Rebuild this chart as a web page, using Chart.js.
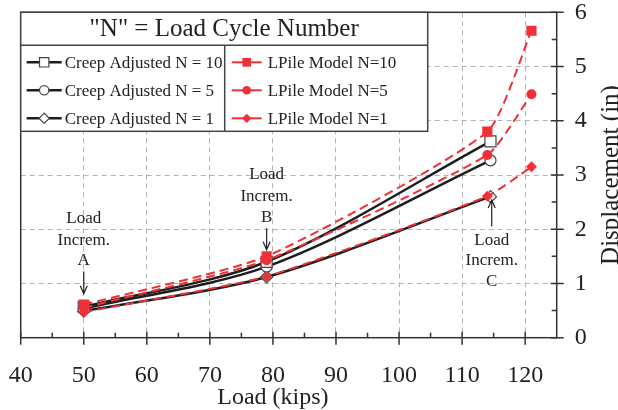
<!DOCTYPE html>
<html>
<head>
<meta charset="utf-8">
<script src="https://cdn.jsdelivr.net/npm/chart.js@4.4.1/dist/chart.umd.min.js"></script>
<style>
    html, body { margin: 0; padding: 0; background: #fff; }
    canvas { display: block; }
</style>
</head>
<body>
<canvas id="myChart" width="618" height="410"></canvas>
<script>
// data
var loadCreep = [50, 79, 114.5];
var creepN10 = [0.57, 1.40, 3.62];
var creepN5 = [0.54, 1.31, 3.27];
var creepN1 = [0.49, 1.12, 2.60];

var loadLpile = [50, 79, 114, 121];
var lpileN10 = [0.61, 1.50, 3.80, 5.66];
var lpileN5 = [0.55, 1.43, 3.37, 4.49];
var lpileN1 = [0.47, 1.13, 2.61, 3.15];

var xTicks = [40, 50, 60, 70, 80, 90, 100, 110, 120];
var xMinorTicks = [45, 55, 65, 75, 85, 95, 105, 115];
var yTicks = [0, 1, 2, 3, 4, 5, 6];
var yMinorTicks = [0.5, 1.5, 2.5, 3.5, 4.5, 5.5];

var legendTitle = '"N" = Load Cycle Number';
var xTitle = 'Load (kips)';
var yTitle = 'Displacement (in)';

// 注記 (data units)
var notes = [
    { x: 50, lines: ['Load', 'Increm.', 'A'], textY: [2.19, 1.80, 1.43], arrowFrom: 1.22, arrowTo: 0.81 },
    { x: 79, lines: ['Load', 'Increm.', 'B'], textY: [3.00, 2.60, 2.21], arrowFrom: 2.02, arrowTo: 1.62 },
    { x: 114.7, lines: ['Load', 'Increm.', 'C'], textY: [1.80, 1.42, 1.03], arrowFrom: 2.05, arrowTo: 2.54 }
];

// プロット領域 (px)
var AREA = { left: 20.7, top: 12.3, right: 556.7, bottom: 337.7 };

var RED = '#ee3136';
var BLACK = '#1e1e1e';
var SERIF = '"Liberation Serif", "DejaVu Serif", serif';

function pts(xs, ys) {
    return xs.map(function (x, i) { return { x: x, y: ys[i] }; });
}

function creep(label, xs, ys, style, r) {
    return {
        label: label, data: pts(xs, ys), order: 2,
        borderColor: BLACK, borderWidth: 2.5,
        tension: 0.3,
        pointStyle: style, pointRadius: r,
        pointBackgroundColor: '#fff', pointBorderColor: '#444', pointBorderWidth: 1.2
    };
}
function lpile(label, xs, ys, style, r) {
    return {
        label: label, data: pts(xs, ys), order: 1,
        borderColor: RED, borderWidth: 2, borderDash: [9, 5],
        tension: 0.18,
        pointStyle: style, pointRadius: r,
        pointBackgroundColor: RED, pointBorderColor: RED, pointBorderWidth: 0
    };
}

var datasets = [
    creep('Creep Adjusted N = 10', loadCreep, creepN10, 'rect', 7.8),
    creep('Creep Adjusted N = 5', loadCreep, creepN5, 'circle', 5.5),
    creep('Creep Adjusted N = 1', loadCreep, creepN1, 'rectRot', 6),
    lpile('LPile Model N=10', loadLpile, lpileN10, 'rect', 7.2),
    lpile('LPile Model N=5', loadLpile, lpileN5, 'circle', 5),
    lpile('LPile Model N=1', loadLpile, lpileN1, 'rectRot', 5.5)
];

function noPadding(s) {
    s.paddingLeft = 0; s.paddingRight = 0; s.paddingTop = 0; s.paddingBottom = 0;
}

var decorPlugin = {
    id: 'decor',
    afterDraw: function (chart) {
        var ctx = chart.ctx;
        var a = chart.chartArea;
        var xs = chart.scales.x, ys = chart.scales.y;
        ctx.save();

        // 枠
        ctx.strokeStyle = '#333';
        ctx.lineWidth = 1.5;
        ctx.strokeRect(a.left, a.top, a.right - a.left, a.bottom - a.top);

        // 目盛
        ctx.beginPath();
        xTicks.forEach(function (v) {
            var px = xs.getPixelForValue(v);
            ctx.moveTo(px, a.bottom - 6); ctx.lineTo(px, a.bottom + 7);
        });
        xMinorTicks.forEach(function (v) {
            var px = xs.getPixelForValue(v);
            ctx.moveTo(px, a.bottom - 5); ctx.lineTo(px, a.bottom);
        });
        yTicks.forEach(function (v) {
            var py = ys.getPixelForValue(v);
            ctx.moveTo(a.right - 6, py); ctx.lineTo(a.right + 7, py);
        });
        yMinorTicks.forEach(function (v) {
            var py = ys.getPixelForValue(v);
            ctx.moveTo(a.right - 5, py); ctx.lineTo(a.right, py);
        });
        ctx.stroke();

        // 軸タイトル
        ctx.fillStyle = '#222';
        ctx.font = '24px ' + SERIF;
        ctx.textAlign = 'center';
        ctx.textBaseline = 'alphabetic';
        ctx.fillText(xTitle, xs.getPixelForValue(80), 404);
        ctx.save();
        ctx.translate(611, (a.top + a.bottom) / 2);
        ctx.rotate(-Math.PI / 2);
        ctx.font = '25px ' + SERIF;
        ctx.textBaseline = 'middle';
        ctx.fillText(yTitle, 0, 0);
        ctx.restore();

        // 注記
        ctx.font = '17px ' + SERIF;
        ctx.textBaseline = 'middle';
        ctx.strokeStyle = '#222';
        ctx.lineWidth = 1.2;
        notes.forEach(function (n) {
            var px = xs.getPixelForValue(n.x);
            n.lines.forEach(function (t, i) {
                ctx.fillText(t, px, ys.getPixelForValue(n.textY[i]));
            });
            var y0 = ys.getPixelForValue(n.arrowFrom);
            var y1 = ys.getPixelForValue(n.arrowTo);
            var dir = y1 > y0 ? 1 : -1;
            ctx.beginPath();
            ctx.moveTo(px, y0); ctx.lineTo(px, y1);
            ctx.moveTo(px - 3.5, y1 - dir * 8); ctx.lineTo(px, y1); ctx.lineTo(px + 3.5, y1 - dir * 8);
            ctx.stroke();
        });

        // 凡例
        var L = a.left, T = a.top, W = 407, titleH = 33, rowH = 28, midX = L + 204;
        var B = T + titleH + rowH * 3 + 2;
        ctx.fillStyle = '#fff';
        ctx.fillRect(L, T, W, B - T);
        ctx.strokeStyle = '#444';
        ctx.lineWidth = 1.5;
        ctx.strokeRect(L, T, W, B - T);
        ctx.beginPath();
        ctx.moveTo(L, T + titleH); ctx.lineTo(L + W, T + titleH);
        ctx.moveTo(midX, T + titleH); ctx.lineTo(midX, B);
        ctx.stroke();

        ctx.fillStyle = '#222';
        ctx.font = '25px ' + SERIF;
        ctx.textAlign = 'center';
        ctx.fillText(legendTitle, L + W / 2, T + titleH / 2 + 1);

        ctx.font = '17px ' + SERIF;
        ctx.textAlign = 'left';
        datasets.forEach(function (ds, i) {
            var col = i < 3 ? 0 : 1;
            var row = i % 3;
            var cy = T + titleH + 17 + row * rowH;
            var x0 = col === 0 ? L + 6 : midX + 7;
            var x1 = col === 0 ? L + 41 : midX + 37;
            var mx = (x0 + x1) / 2;
            ctx.save();
            ctx.strokeStyle = ds.borderColor;
            ctx.lineWidth = ds.borderWidth;
            ctx.beginPath();
            ctx.moveTo(x0, cy); ctx.lineTo(x1, cy);
            ctx.stroke();
            ctx.fillStyle = ds.pointBackgroundColor;
            ctx.strokeStyle = ds.pointBorderColor;
            ctx.lineWidth = ds.pointBorderWidth;
            Chart.helpers.drawPoint(ctx, {
                pointStyle: ds.pointStyle, radius: ds.pointRadius * 0.85,
                rotation: 0, borderWidth: ds.pointBorderWidth
            }, mx, cy);
            ctx.restore();
            ctx.fillStyle = '#222';
            ctx.fillText(ds.label, x1 + (col === 0 ? 3 : 6), cy + 1);
        });

        ctx.restore();
    }
};

var ctx = document.getElementById('myChart').getContext('2d');
var myChart = new Chart(ctx, {
    type: 'line',
    data: { datasets: datasets },
    options: {
        responsive: false,
        animation: false,
        devicePixelRatio: 1,
        layout: { autoPadding: false, padding: { left: AREA.left, top: AREA.top, right: 0, bottom: 0 } },
        plugins: { legend: { display: false }, tooltip: { enabled: false } },
        scales: {
            x: {
                type: 'linear', min: 40, max: 125,
                afterBuildTicks: function (s) { s.ticks = xTicks.map(function (v) { return { value: v }; }); },
                afterFit: function (s) { s.height = 410 - AREA.bottom; noPadding(s); },
                ticks: { font: { family: SERIF, size: 24, lineHeight: 1 }, color: '#222', padding: 26, maxRotation: 0, autoSkip: false },
                grid: { color: '#b3b3b3', lineWidth: 1, drawTicks: false },
                border: { display: false, dash: [5, 4] }
            },
            y: {
                type: 'linear', position: 'right', min: 0, max: 6,
                afterBuildTicks: function (s) { s.ticks = yTicks.map(function (v) { return { value: v }; }); },
                afterFit: function (s) { s.width = 618 - AREA.right; noPadding(s); },
                ticks: { font: { family: SERIF, size: 24, lineHeight: 1 }, color: '#222', padding: 18, autoSkip: false },
                grid: { color: '#b3b3b3', lineWidth: 1, drawTicks: false },
                border: { display: false, dash: [5, 4] }
            }
        }
    },
    plugins: [decorPlugin]
});
</script>
</body>
</html>
